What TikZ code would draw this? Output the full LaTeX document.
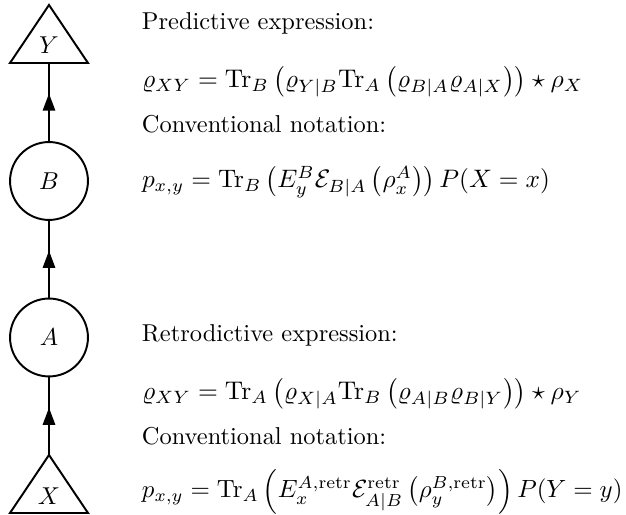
\documentclass[tikz,border=0pt]{standalone}
\usepackage{amsmath}
\usetikzlibrary{arrows.meta,decorations.markings}
\begin{document}
\begin{tikzpicture}[x=0.4095pt,y=-0.4095pt,
  line width=0.8pt,
  var/.style={circle,draw,minimum size=31.9pt,inner sep=0pt},
  lab/.style={inner sep=0pt},
  txt/.style={anchor=base west,inner sep=0pt},
  eq/.style={txt,scale=#1,transform shape},
  midarrow/.style={postaction={decorate},decoration={markings,
    mark=at position 0.5 with {\arrow[xshift=3.5pt]{Triangle[length=7pt,width=5pt]}}}}]
\useasboundingbox (0,0) rectangle (626,515);
% triangles
\draw[line join=miter] (10,63) -- (49,5) -- (88,63) -- cycle;
\node[lab] (Y) at (49,45) {$Y$};
\coordinate (Yb) at (49,63);
\draw[line join=miter] (10,513) -- (49,455) -- (88,513) -- cycle;
\node[lab] (X) at (49,496) {$X$};
\coordinate (Xt) at (49,455);
% circles
\node[var] (B) at (49,181) {$B$};
\node[var] (A) at (49,337.5) {$A$};
% connectors
\draw[midarrow] (Xt) -- (A.south);
\draw[midarrow] (A.north) -- (B.south);
\draw[midarrow] (B.north) -- (Yb);
% texts
\node[txt] (t1) at (141,30) {Predictive expression:};
\node[eq=1.045] (t2) at (141,88) {$\varrho_{XY} = \mathrm{Tr}_B\left(\varrho_{Y|B}\mathrm{Tr}_A\left(\varrho_{B|A}\varrho_{A|X}\right)\right)\star\rho_X$};
\node[txt] (t3) at (141,133) {Conventional notation:};
\node[eq=1.035] (t4) at (141,188) {$p_{x,y} = \mathrm{Tr}_B\left(E^B_y\mathcal{E}_{B|A}\left(\rho^A_x\right)\right)P(X=x)$};
\node[txt] (t5) at (141,342) {Retrodictive expression:};
\node[eq=1.045] (t6) at (141,400) {$\varrho_{XY} = \mathrm{Tr}_A\left(\varrho_{X|A}\mathrm{Tr}_B\left(\varrho_{A|B}\varrho_{B|Y}\right)\right)\star\rho_Y$};
\node[txt] (t7) at (141,445) {Conventional notation:};
\node[eq=1.02] (t8) at (141,498) {$p_{x,y} = \mathrm{Tr}_A\left(E^{A,\mathrm{retr}}_x\mathcal{E}^{\mathrm{retr}}_{A|B}\left(\rho^{B,\mathrm{retr}}_y\right)\right)P(Y=y)$};
\end{tikzpicture}
\end{document}
